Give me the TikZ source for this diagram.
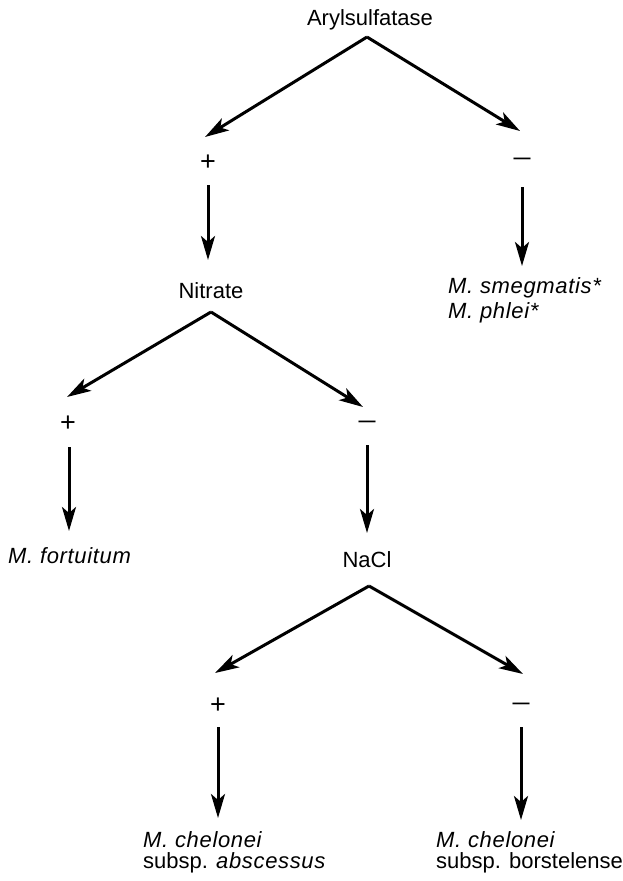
\documentclass[tikz,border=0pt]{standalone}
\usepackage{fontspec}
\setmainfont{Liberation Sans}[ItalicFeatures={LetterSpace=3}]
\usetikzlibrary{arrows.meta}
\newcommand{\possign}{{\fontsize{27}{27}\selectfont +}}
\newcommand{\negsign}{{\fontsize{17}{17}\selectfont\bfseries\textemdash}}
\begin{document}
\begin{tikzpicture}[x=1pt,y=-1pt,
  every node/.style={font=\fontsize{22}{22}\selectfont, inner sep=0pt},
  lbl/.style={anchor=base},
  taxon/.style={anchor=base west},
  sign/.style={anchor=center},
  branch/.style={line width=3pt, -{Stealth[length=24pt,width=14pt,inset=6pt]}}]
\useasboundingbox (0,0) rectangle (622,881);

% Arylsulfatase test
\node[lbl] (aryl) at (370,25) {Arylsulfatase};
\coordinate (arylV) at (367,37);
\coordinate (arylL) at (205,137);
\coordinate (arylR) at (520,131);
\node[sign] (arylpos) at (208,163) {\possign};
\node[sign] (arylneg) at (522,161) {\negsign};
\coordinate (arylposS) at (208,185);
\coordinate (arylnegS) at (522,187);
\draw[branch] (arylV) -- (arylL);
\draw[branch] (arylV) -- (arylR);

% Nitrate test
\node[lbl] (nitrate) at (211,298) {Nitrate};
\coordinate (nitrateT) at (208,260);
\draw[branch] (arylposS) -- (nitrateT);
\node[taxon] (smeg) at (448,293) {\itshape M. smegmatis*};
\node[taxon] (phlei) at (448,318) {\itshape M. phlei*};
\coordinate (smegT) at (522,266);
\draw[branch] (arylnegS) -- (smegT);
\coordinate (nitrateV) at (211,312);
\coordinate (nitrateL) at (67,397);
\coordinate (nitrateR) at (363,407);
\draw[branch] (nitrateV) -- (nitrateL);
\draw[branch] (nitrateV) -- (nitrateR);
\node[sign] (nitpos) at (68,424) {\possign};
\node[sign] (nitneg) at (367,424) {\negsign};
\coordinate (nitposS) at (69,447);
\coordinate (nitnegS) at (367,445);

% M. fortuitum
\node[taxon] (fort) at (8,563) {\itshape M. fortuitum};
\coordinate (fortT) at (69,531);
\draw[branch] (nitposS) -- (fortT);

% NaCl test
\node[lbl] (nacl) at (367,567) {NaCl};
\coordinate (naclT) at (367,533);
\draw[branch] (nitnegS) -- (naclT);
\coordinate (naclV) at (369,586);
\coordinate (naclL) at (215,673);
\coordinate (naclR) at (523,674);
\draw[branch] (naclV) -- (naclL);
\draw[branch] (naclV) -- (naclR);
\node[sign] (naclpos) at (218,706) {\possign};
\node[sign] (naclneg) at (521,706) {\negsign};
\coordinate (naclposS) at (218,727);
\coordinate (naclnegS) at (521,727);

% M. chelonei subspecies
\node[taxon] (chelA1) at (143,847) {\itshape M. chelonei};
\node[taxon] (chelA2) at (143,868) {subsp. \textit{abscessus}};
\node[taxon] (chelB1) at (436,847) {\itshape M. chelonei};
\node[taxon] (chelB2) at (436,868) {subsp. borstelense};
\coordinate (chelAT) at (218,818);
\coordinate (chelBT) at (521,820);
\draw[branch] (naclposS) -- (chelAT);
\draw[branch] (naclnegS) -- (chelBT);
\end{tikzpicture}
\end{document}
